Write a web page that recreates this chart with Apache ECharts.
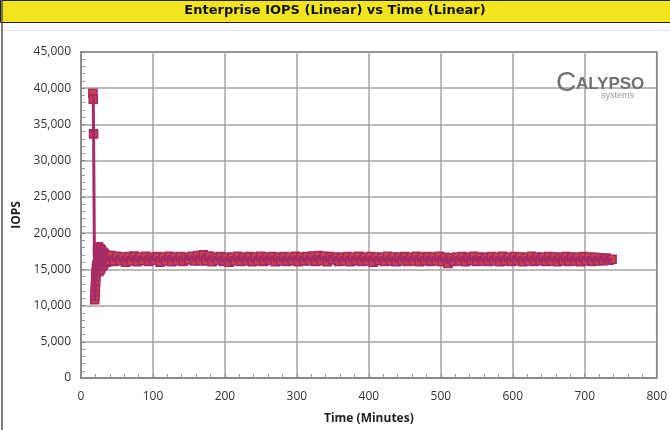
<!DOCTYPE html>
<html>
<head>
<meta charset="utf-8">
<script src="https://cdn.jsdelivr.net/npm/echarts@6/dist/echarts.min.js"></script>
<style>html,body{margin:0;padding:0;background:#fff}#c{width:670px;height:430px}</style>
</head>
<body>
<div id="c"></div>
<script>
var chartTitle = 'Enterprise IOPS (Linear) vs Time (Linear)';
var xName = 'Time (Minutes)';
var yName = 'IOPS';

var timesEarly = [16.5,17,17.5,19,19.3,19.6,20,20.3,20.6,21,21.5,22,23,24,25,26,27,28,29,30,31,32,33,34,35,36,37,38,39];
var iopsEarly = [39300,38500,33700,10800,11300,11900,12600,13300,14000,14600,15200,15600,17600,18100,14700,17900,15000,17700,15400,17400,15600,17200,15900,17000,16000,16900,16100,16800,16200];

var timesSteady = [
42,46,50,54,58,62,66,70,74,78,
82,86,90,94,98,102,106,110,114,118,
122,126,130,134,138,142,146,150,154,158,
162,166,170,174,178,182,186,190,194,198,
202,206,210,214,218,222,226,230,234,238,
242,246,250,254,258,262,266,270,274,278,
282,286,290,294,298,302,306,310,314,318,
322,326,330,334,338,342,346,350,354,358,
362,366,370,374,378,382,386,390,394,398,
402,406,410,414,418,422,426,430,434,438,
442,446,450,454,458,462,466,470,474,478,
482,486,490,494,498,502,506,510,514,518,
522,526,530,534,538,542,546,550,554,558,
562,566,570,574,578,582,586,590,594,598,
602,606,610,614,618,622,626,630,634,638,
642,646,650,654,658,662,666,670,674,678,
682,686,690,694,698,702,706,710,714,718,
722,726,730,734,738];
var iopsSteady = [
16900,16100,16800,16200,16700,16000,16750,16150,16850,16050,
16700,16200,16800,16100,16650,16250,16750,16000,16700,16150,
16800,16050,16700,16200,16750,16100,16650,16300,16800,16150,
16900,16200,17000,16150,16850,16050,16700,16250,16750,16100,
16650,16000,16700,16150,16800,16100,16650,16200,16750,16050,
16700,16150,16800,16100,16700,16250,16750,16050,16650,16150,
16750,16100,16700,16200,16800,16050,16700,16150,16750,16200,
16850,16100,16900,16200,16800,16050,16750,16300,16700,16100,
16650,16150,16750,16050,16700,16200,16800,16100,16650,16150,
16750,16000,16700,16200,16650,16100,16800,16150,16700,16050,
16700,16200,16750,16100,16650,16150,16800,16050,16700,16200,
16750,16100,16700,16150,16800,16050,16650,15800,16600,16100,
16700,16150,16750,16050,16650,16200,16800,16100,16700,16150,
16650,16100,16750,16200,16700,16050,16800,16150,16650,16100,
16750,16200,16700,16050,16650,16150,16800,16100,16700,16200,
16650,16100,16750,16150,16700,16050,16650,16200,16750,16100,
16700,16150,16650,16050,16750,16200,16700,16100,16650,16150,
16600,16200,16550,16250,16400];

var times = timesEarly.concat(timesSteady);
var iops = iopsEarly.concat(iopsSteady);
var points = times.map(function (t, i) { return [t, iops[i]]; });

var chart = echarts.init(document.getElementById('c'));
var lbl = { fontFamily: 'Open Sans', fontSize: 12, color: '#333' };
chart.setOption({
  animation: false,
  backgroundColor: '#fff',
  grid: { left: 81, right: 10, top: 52, bottom: 52, show: true, borderColor: '#333', borderWidth: 1.5, backgroundColor: 'transparent' },
  graphic: [
    { type: 'rect', left: 0, top: 0, shape: { width: 670, height: 22 }, style: { fill: '#f2e51f', stroke: '#222', lineWidth: 1 }, z: 10 },
    { type: 'text', left: 'center', top: 4, style: { text: chartTitle, font: 'bold 13px "DejaVu Sans"', fill: '#111' }, z: 11 },
    { type: 'line', shape: { x1: 0, y1: 30.5, x2: 670, y2: 30.5 }, style: { stroke: '#e4e4e4', lineWidth: 1 }, z: 10 },
    { type: 'line', shape: { x1: 2, y1: 0, x2: 2, y2: 430 }, style: { stroke: '#555', lineWidth: 1.5 }, z: 12 },
    { type: 'text', left: 556, top: 69, style: { text: 'C', font: '28px "Liberation Sans"', fill: '#6f6f6f' }, z: 5 },
    { type: 'text', left: 576, top: 76, style: { text: 'ALYPSO', font: 'bold 17px "Liberation Sans"', fill: '#727272' }, z: 5 },
    { type: 'text', left: 601, top: 91, style: { text: 'systems', font: '9px "Liberation Sans"', fill: '#9a9a9a' }, z: 5 }
  ],
  xAxis: {
    type: 'value', min: 0, max: 800, interval: 100,
    name: xName, nameLocation: 'middle', nameGap: 35,
    nameTextStyle: { fontFamily: 'Open Sans', fontSize: 12, fontWeight: 'bold', color: '#222' },
    axisLine: { show: true, lineStyle: { color: '#888', width: 1.5 } },
    axisTick: { show: true, inside: true, length: 4, lineStyle: { color: '#888' } },
    minorTick: { show: true, splitNumber: 5, length: 4, lineStyle: { color: '#999' } },
    axisLabel: Object.assign({ margin: 13 }, lbl),
    splitLine: { show: true, lineStyle: { color: '#a4a4a4', width: 1.5 } }
  },
  yAxis: {
    type: 'value', min: 0, max: 45000, interval: 5000,
    name: yName, nameLocation: 'middle', nameGap: 53, nameRotate: 90,
    nameTextStyle: { fontFamily: 'Open Sans', fontSize: 12, fontWeight: 'bold', color: '#222' },
    axisLine: { show: true, lineStyle: { color: '#888', width: 1.5 } },
    axisTick: { show: true, inside: true, length: 4, lineStyle: { color: '#888' } },
    minorTick: { show: true, splitNumber: 5, length: 4, lineStyle: { color: '#999' } },
    axisLabel: Object.assign({ margin: 10, formatter: function (v) { return v.toLocaleString('en-US'); } }, lbl),
    splitLine: { show: true, lineStyle: { color: '#a4a4a4', width: 1.5 } }
  },
  series: [
    {
      type: 'scatter', data: points, symbol: 'rect', symbolSize: 8,
      itemStyle: { color: '#c9444a', borderColor: '#a52a66', borderWidth: 1.6, opacity: 1 },
      z: 2, silent: true
    },
    {
      type: 'line', data: points, showSymbol: false, symbol: 'none',
      lineStyle: { color: '#a52a66', width: 3 },
      z: 3, silent: true
    }
  ]
});
</script>
</body>
</html>
